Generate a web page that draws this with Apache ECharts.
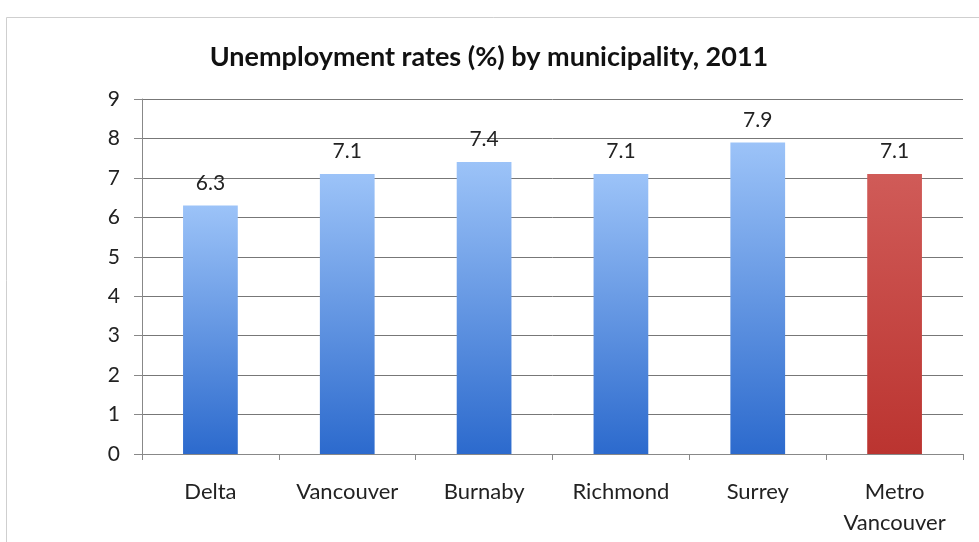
<!DOCTYPE html>
<html><head><meta charset="utf-8">
<script src="https://cdn.jsdelivr.net/npm/echarts@6/dist/echarts.min.js"></script>
<style>html,body{margin:0;padding:0;background:#fff}#c{width:979px;height:542px}</style>
</head><body><div id="c"></div>
<script>
const categories = ['Delta','Vancouver','Burnaby','Richmond','Surrey','Metro\nVancouver'];
const rates = [6.3, 7.1, 7.4, 7.1, 7.9, 7.1];
const highlightIndex = 5;

const blue = new echarts.graphic.LinearGradient(0,0,0,1,[{offset:0,color:'#9cc3f8'},{offset:1,color:'#2c6acd'}]);
const red = new echarts.graphic.LinearGradient(0,0,0,1,[{offset:0,color:'#d05b58'},{offset:1,color:'#bb3430'}]);

const chart = echarts.init(document.getElementById('c'));
chart.setOption({
  animation:false,
  title:{text:'Unemployment rates (%) by municipality, 2011',left:484,top:39,textAlign:'center',
    textStyle:{fontFamily:'Lato',fontWeight:'bold',fontSize:27,color:'#111'}},
  graphic:[{type:'rect',shape:{x:6.5,y:17.5,width:1000,height:600},style:{fill:'none',stroke:'#cfcfcf',lineWidth:1}}],
  grid:{left:142,right:16,top:99,bottom:88},
  xAxis:{type:'category',data:categories,
    axisLine:{lineStyle:{color:'#888'}},
    axisTick:{show:true,lineStyle:{color:'#888'},length:6},
    axisLabel:{fontFamily:'Lato',fontSize:22,color:'#222',margin:22,lineHeight:31}},
  yAxis:{type:'value',min:0,max:9,interval:1,
    axisLine:{show:true,lineStyle:{color:'#888'}},
    axisTick:{show:true,length:8,lineStyle:{color:'#888'}},
    splitLine:{lineStyle:{color:'#777'}},
    axisLabel:{fontFamily:'Lato',fontSize:21,color:'#222',margin:22}},
  series:[{type:'bar',barWidth:'40%',
    data:rates.map((v,i)=>({value:v,itemStyle:{color:i===highlightIndex?red:blue}})),
    label:{show:true,position:'top',distance:12,fontFamily:'Lato',fontSize:21,color:'#222'}}]
});
</script></body></html>
